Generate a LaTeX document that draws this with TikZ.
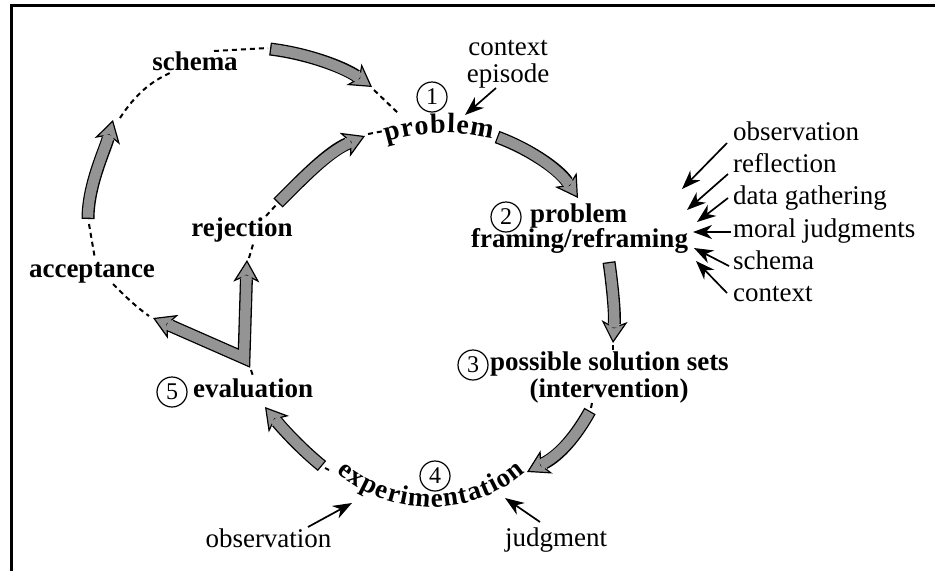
\documentclass[tikz,border=0pt]{standalone}
\usepackage{fontspec}
\setmainfont{Liberation Serif}
\usetikzlibrary{arrows.meta}
\definecolor{stipple}{gray}{0.58}

% a broad hatched arrow: tip first, then black outline of the shaft, then its grey core
\newcommand\fatarrow[1]{%
  \draw[fattip] #1;
  \draw[fatout] #1;
  \draw[fatin] #1;
}
% the same with a head at both ends
\newcommand\fatarrowboth[1]{%
  \draw[fattipboth] #1;
  \draw[fatout, shorten <=19.2pt] #1;
  \draw[fatin, shorten <=15.5pt] #1;
}

\begin{document}
\begin{tikzpicture}[x=1pt,y=-1pt,
  fathead/.tip={Stealth[length=22pt,width=26pt,inset=6pt,line width=1.2pt,fill=stipple]},
  fattip/.style={line width=0.01pt, -fathead},
  fattipboth/.style={line width=0.01pt, fathead-fathead},
  fatout/.style={line width=13pt, line join=miter, shorten >=19.2pt},
  fatin/.style={line width=10.4pt, draw=stipple, line join=miter, shorten <=1.3pt, shorten >=15.5pt},
  dashline/.style={line width=2pt, dash pattern=on 5pt off 4pt},
  thinarrow/.style={line width=1.7pt, -{Stealth[length=19pt,width=14pt,inset=6pt]}},
  lbl/.style={font=\fontsize{27}{30}\selectfont, inner sep=0pt},
  blbl/.style={font=\fontsize{27}{30}\selectfont\bfseries, inner sep=0pt},
  arclbl/.style={font=\fontsize{28}{30}\selectfont\bfseries, inner sep=0pt},
  num/.style={circle, draw, line width=1.2pt, minimum size=30pt, inner sep=0pt,
              font=\fontsize{24}{24}\selectfont},
]
\useasboundingbox (0,0) rectangle (935,571);

% frame (top and left rules)
\coordinate (fBL) at (11.5,571);
\coordinate (fTL) at (11.5,5.8);
\coordinate (fTR) at (935,5.8);
\draw[line width=3pt] (fBL) -- (fTL) -- (fTR);

% ---------- dashed return paths ----------
\coordinate (d1a) at (120,118); \coordinate (d1b) at (170,73);
\draw[dashline] (d1a) .. controls (135,95) and (150,82) .. (d1b);
\coordinate (d1c) at (214,51); \coordinate (d1d) at (268,48);
\draw[dashline] (d1c) -- (d1d);
\coordinate (d2a) at (374,90); \coordinate (d2b) at (398,113);
\draw[dashline] (d2a) -- (d2b);
\coordinate (d3a) at (368,134); \coordinate (d3b) at (384,131);
\draw[dashline] (d3a) -- (d3b);
\coordinate (d4a) at (89,224); \coordinate (d4b) at (95,259);
\draw[dashline] (d4a) -- (d4b);
\coordinate (d4c) at (113,284); \coordinate (d4d) at (149,316);
\draw[dashline] (d4c) .. controls (125,296) and (135,306) .. (d4d);
\coordinate (d5a) at (249,258); \coordinate (d5b) at (254,241);
\draw[dashline] (d5a) -- (d5b);
\coordinate (d5c) at (266,216); \coordinate (d5d) at (277,204);
\draw[dashline] (d5c) -- (d5d);
\coordinate (d6a) at (251,370); \coordinate (d6b) at (253,376);
\draw[dashline] (d6a) -- (d6b);
\coordinate (d7a) at (325,468); \coordinate (d7b) at (329,470);
\draw[line width=2pt] (d7a) -- (d7b);
\coordinate (d8a) at (613,345); \coordinate (d8b) at (613,350);
\draw[dashline] (d8a) -- (d8b);
\coordinate (d9a) at (592,403); \coordinate (d9b) at (591,408);
\draw[dashline] (d9a) -- (d9b);

% ---------- broad arrows ----------
\coordinate (a1s) at (270,49);  \coordinate (a1e) at (372,87);
\fatarrow{(a1s) .. controls (310,54) and (345,68) .. (a1e)}
\coordinate (a2s) at (278,203); \coordinate (a2e) at (365,136);
\fatarrow{(a2s) .. controls (303,178) and (328,152) .. (a2e)}
\coordinate (a3s) at (497,137); \coordinate (a3e) at (578,198);
\fatarrow{(a3s) .. controls (527,148) and (558,168) .. (a3e)}
\coordinate (a4s) at (609,262); \coordinate (a4e) at (613,343);
\fatarrow{(a4s) .. controls (613,290) and (615,315) .. (a4e)}
\coordinate (a5s) at (590,411); \coordinate (a5e) at (527,472);
\fatarrow{(a5s) .. controls (576,436) and (560,455) .. (a5e)}
\coordinate (a6s) at (322,466); \coordinate (a6e) at (265,407);
\fatarrow{(a6s) .. controls (300,448) and (282,428) .. (a6e)}
\coordinate (a8s) at (88,219);  \coordinate (a8e) at (113,120);
\fatarrow{(a8s) .. controls (88,185) and (105,150) .. (a8e)}
\coordinate (a7l) at (153,318); \coordinate (a7c) at (244,358); \coordinate (a7u) at (247,260);
\fatarrowboth{(a7l) -- (a7c) -- (a7u)}

% ---------- stage labels ----------
\node[num] (n1) at (432,97) {1};
% "problem" set along a gentle arc (centre 445,333; radius 200)
\foreach \lt/\sv [count=\k] in {p/-51.8, r/-36.8, o/-22.6, b/-6.8, l/5.9, e/17.0, m/35.9}
  \node[arclbl, anchor=base, rotate={-\sv*0.28648}] (pr\k)
    at ({445+200*sin(\sv*0.28648)}, {333-200*cos(\sv*0.28648)}) {\lt};

\node[num] (n2) at (506,217) {2};
\node[blbl, anchor=base west] (p2) at (530,222) {problem};
\node[blbl, anchor=base] (fr) at (579.5,247) {framing/reframing};

\node[num] (n3) at (473,365) {3};
\node[blbl, anchor=base west] (pss) at (490,370) {possible solution sets};
\node[blbl, anchor=base] (inv) at (609,397) {(intervention)};

\node[num] (n4) at (435,476) {4};
% "experimentation" set along a sagging arc (centre 431,362; radius 145)
\foreach \lt/\sv [count=\k] in {e/-96.9, x/-82.95, p/-67.5, e/-52.8, r/-39.6, i/-28.65, m/-12.45,
    e/6.0, n/20.7, t/33.9, a/46.3, t/58.8, i/68.2, o/79.9, n/95.4}
  \node[blbl, anchor=base, rotate={\sv*0.39514}] (ex\k)
    at ({431+145*sin(\sv*0.39514)}, {362+145*cos(\sv*0.39514)}) {\lt};

\node[num] (n5) at (172,392) {5};
\node[blbl, anchor=base west] (ev) at (193,397) {evaluation};
\node[blbl, anchor=base] (rej) at (242,236) {rejection};
\node[blbl, anchor=base] (acc) at (92,277) {acceptance};
\node[blbl, anchor=base] (sch) at (195,70) {schema};

% ---------- influences ----------
\node[lbl, anchor=base] (ctx) at (508,55) {context};
\node[lbl, anchor=base] (epi) at (508,82) {episode};
\coordinate (eps) at (496,88); \coordinate (ept) at (465,115);
\draw[thinarrow] (eps) -- (ept);

\node[lbl, anchor=base west] (r1) at (733,140) {observation};
\node[lbl, anchor=base west] (r2) at (733,172) {reflection};
\node[lbl, anchor=base west] (r3) at (733,204) {data gathering};
\node[lbl, anchor=base west] (r4) at (733,237) {moral judgments};
\node[lbl, anchor=base west] (r5) at (733,269) {schema};
\node[lbl, anchor=base west] (r6) at (733,301) {context};
\coordinate (r1s) at (727,143); \coordinate (r1t) at (682,189);
\coordinate (r2s) at (728,174); \coordinate (r2t) at (687,210);
\coordinate (r3s) at (728,198); \coordinate (r3t) at (697,222);
\coordinate (r4s) at (731,232); \coordinate (r4t) at (693,232);
\coordinate (r5s) at (729,266); \coordinate (r5t) at (694,248);
\coordinate (r6s) at (727,293); \coordinate (r6t) at (696,261);
\foreach \k in {1,...,6} \draw[thinarrow] (r\k s) -- (r\k t);

\node[lbl, anchor=base] (obs) at (268.5,547) {observation};
\coordinate (obs1) at (308,527); \coordinate (obs2) at (352,503);
\draw[thinarrow] (obs1) -- (obs2);
\node[lbl, anchor=base] (jud) at (556,546) {judgment};
\coordinate (jud1) at (540,522); \coordinate (jud2) at (505,498);
\draw[thinarrow] (jud1) -- (jud2);
\end{tikzpicture}
\end{document}
